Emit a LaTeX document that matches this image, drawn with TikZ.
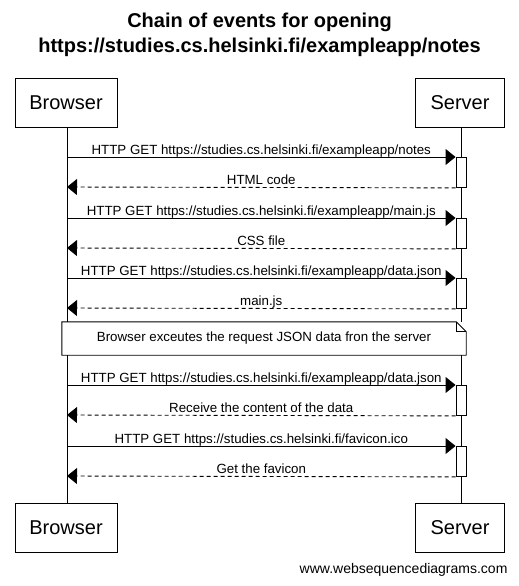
\documentclass[tikz,border=0pt]{standalone}
\usepackage{fontspec}
\setmainfont{Liberation Sans}
\usepackage{xcolor}
\usepackage{tikz}
\usetikzlibrary{arrows.meta,positioning}
\definecolor{ink}{HTML}{000000}
\tikzset{
  actor/.style={draw=ink,fill=white,line width=0.9pt,inner sep=0pt,font=\fontsize{20}{24}\selectfont,text=ink},
  lifeline/.style={line width=0.9pt,color=ink},
  act/.style={draw=ink,fill=white,line width=0.9pt,minimum width=10pt,minimum height=30pt,inner sep=0pt},
  req/.style={-{Triangle[length=10pt,width=16pt]},line width=0.9pt,color=ink},
  reply/.style={-{Triangle[length=10pt,width=16pt]},line width=0.9pt,color=ink,dash pattern=on 4pt off 3pt},
  lbl/.style={font=\fontsize{13.3}{15}\selectfont,text=ink,anchor=base,inner sep=0pt,yshift=3pt},
  notebox/.style={draw=none,fill=white,minimum width=404pt,minimum height=33pt,inner sep=0pt,font=\fontsize{13.3}{15}\selectfont,text=ink},
}

\begin{document}
\begin{tikzpicture}[x=1pt,y=-1pt]
    \useasboundingbox (0,0) rectangle (519,586);
    \node[font=\fontsize{20}{25}\selectfont\bfseries,align=center,text=ink] (title) at (259.5,35) {Chain of events for opening\\https://studies.cs.helsinki.fi/exampleapp/notes};
    % actors, top and bottom
    \node[actor,minimum width=102pt,minimum height=49pt] (browser) at (66,102.5) {Browser};
    \node[actor,minimum width=89pt,minimum height=49pt] (server) at (460,102.5) {Server};
    \node[actor,minimum width=102pt,minimum height=49pt] (browser2) at (66,527.5) {Browser};
    \node[actor,minimum width=89pt,minimum height=49pt] (server2) at (460,527.5) {Server};
    \draw[lifeline] (browser.south -| 67,0) -- (browser2.north -| 67,0);
    \draw[lifeline] (server.south -| 461,0) -- (server2.north -| 461,0);
    % requests and replies
    \foreach \i/\y/\rq/\rs in {
      1/157/{HTTP GET https://studies.cs.helsinki.fi/exampleapp/notes}/{HTML code},
      2/218/{HTTP GET https://studies.cs.helsinki.fi/exampleapp/main.js}/{CSS file},
      3/278/{HTTP GET https://studies.cs.helsinki.fi/exampleapp/data.json}/{main.js},
      4/385/{HTTP GET https://studies.cs.helsinki.fi/exampleapp/data.json}/{Receive the content of the data},
      5/446/{HTTP GET https://studies.cs.helsinki.fi/favicon.ico}/{Get the favicon}} {
      \node[act,anchor=north] (act\i) at (461,\y) {};
      \coordinate (out\i) at (67,\y);
      \coordinate (back\i) at (67,\y+30);
      \draw[req] (out\i) -- (act\i.north west) node[lbl,midway] {\rq};
      \draw[reply] (act\i.south west) -- (back\i) node[lbl,midway] {\rs};
    }
    % note over both
    \node[notebox] (note) at (264,338.5) {Browser exceutes the request JSON data fron the server};
    \draw[line width=0.9pt,color=ink] (note.south west) -- (note.north west) -- ([xshift=-10pt]note.north east) -- ([yshift=-10pt]note.north east) -- (note.south east) -- cycle;
    \draw[line width=0.9pt,color=ink] ([xshift=-10pt]note.north east) |- ([yshift=-10pt]note.north east);
    \node[font=\fontsize{14}{16}\selectfont,text=ink,anchor=east] (credit) at (511,570) {www.websequencediagrams.com};
\end{tikzpicture}
\end{document}
